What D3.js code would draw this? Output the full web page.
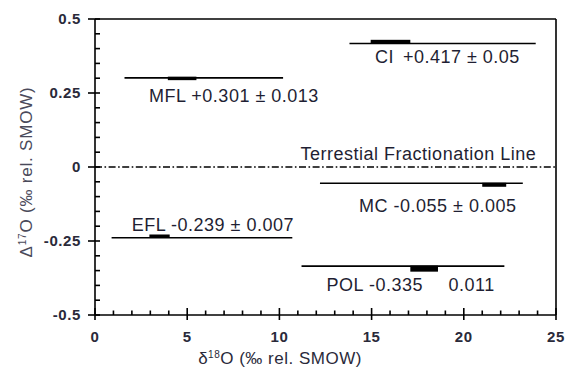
<!DOCTYPE html>
<html lang="en">

<head>
    <meta charset="UTF-8">
    <title>D17O vs d18O</title>
    <script src="https://cdn.jsdelivr.net/npm/d3@7"></script>
    <style>
        body {
            margin: 0;
            background: #fff;
        }

        svg {
            font-family: "Liberation Sans", Arial, sans-serif;
        }
    </style>
</head>

<body>
    <svg width="566" height="368"></svg>
    <script>
        // 样品名称
        var names = ["CI", "MFL", "MC", "EFL", "POL"];
        // Δ17O 数值 与 误差
        var d17 = [0.417, 0.301, -0.055, -0.239, -0.335];
        var d17err = ["0.05", "0.013", "0.005", "0.007", "0.011"];
        // δ18O 范围 (细线)
        var rangeLo = [13.8, 1.6, 12.2, 0.9, 11.2];
        var rangeHi = [23.9, 10.2, 23.2, 10.7, 22.2];
        // δ18O 平均区间 (粗线)
        var meanLo = [14.95, 3.95, 21.0, 2.95, 17.1];
        var meanHi = [17.1, 5.5, 22.3, 4.05, 18.6];
        // 标签位置 (数据单位)
        var labelX = [15.18, 2.93, 14.32, 1.99, 12.56];
        var labelY = [0.35, 0.22, -0.152, -0.216, -0.419];

        var xTicks = [0, 5, 10, 15, 20, 25];
        var yTicks = [0.5, 0.25, 0, -0.25, -0.5];

        // 粗线样式: 高度, 相对细线偏移
        var barStyle = {
            CI: [3.5, -2],
            MFL: [3.5, 0.5],
            MC: [4, 1.5],
            EFL: [3.5, -1.5],
            POL: [6, 2.5]
        };

        var svg = d3.select("svg");

        var x = d3.scaleLinear().domain([0, 25]).range([95, 556]);
        var y = d3.scaleLinear().domain([-0.5, 0.5]).range([315, 19]);

        var frame = svg.append("g").attr("stroke", "#000").attr("stroke-width", 1.6);
        // 上、右边框
        frame.append("line").attr("x1", x(0)).attr("x2", x(25)).attr("y1", y(0.5)).attr("y2", y(0.5));
        frame.append("line").attr("x1", x(25)).attr("x2", x(25)).attr("y1", y(0.5)).attr("y2", y(-0.5));
        // 左轴, 下轴
        frame.append("line").attr("x1", x(0)).attr("x2", x(0)).attr("y1", y(0.5)).attr("y2", y(-0.5));
        frame.append("line").attr("x1", x(0)).attr("x2", x(25)).attr("y1", y(-0.5)).attr("y2", y(-0.5));

        // 左轴刻度
        var yMinor = d3.range(-0.5, 0.5001, 0.05);
        frame.selectAll(".ym").data(yMinor).enter().append("line")
            .attr("x1", function (d) {
                return Math.abs(Math.round(d * 100) % 25) === 0 ? x(0) - 7 : x(0);
            })
            .attr("x2", x(0) + 5)
            .attr("y1", function (d) { return y(d); })
            .attr("y2", function (d) { return y(d); });

        // 下轴刻度
        var xMinor = d3.range(0, 25.001, 1);
        frame.selectAll(".xm").data(xMinor).enter().append("line")
            .attr("x1", function (d) { return x(d); })
            .attr("x2", function (d) { return x(d); })
            .attr("y1", function (d) {
                return d % 5 === 0 ? y(-0.5) - 7 : y(-0.5) - 4.5;
            })
            .attr("y2", function (d) {
                return d % 5 === 0 ? y(-0.5) + 5 : y(-0.5);
            });

        // 刻度标签
        svg.append("g").selectAll("text").data(yTicks).enter().append("text")
            .attr("x", 81)
            .attr("y", function (d) { return y(d); })
            .attr("dy", "0.36em")
            .attr("text-anchor", "end")
            .attr("font-size", 15)
            .attr("font-weight", "bold")
            .attr("letter-spacing", 0.6)
            .attr("fill", "#2a2a3a")
            .text(function (d) { return d; });

        svg.append("g").selectAll("text").data(xTicks).enter().append("text")
            .attr("x", function (d) { return x(d); })
            .attr("y", 342)
            .attr("text-anchor", "middle")
            .attr("font-size", 15)
            .attr("font-weight", "bold")
            .attr("letter-spacing", 0.6)
            .attr("fill", "#2a2a3a")
            .text(function (d) { return d; });

        // 轴标题
        var xt = svg.append("text")
            .attr("x", 280)
            .attr("y", 364)
            .attr("text-anchor", "middle")
            .attr("font-size", 17)
            .attr("letter-spacing", 0.5)
            .attr("fill", "#2a2a3a");
        xt.append("tspan").text("δ");
        xt.append("tspan").attr("font-size", 10).attr("dy", -6).text("18");
        xt.append("tspan").attr("dy", 6).text("O (‰ rel. SMOW)");

        var yt = svg.append("text")
            .attr("transform", "translate(32,172) rotate(-90)")
            .attr("text-anchor", "middle")
            .attr("font-size", 17)
            .attr("letter-spacing", 0.8)
            .attr("fill", "#4a4a5a");
        yt.append("tspan").text("Δ");
        yt.append("tspan").attr("font-size", 10).attr("dy", -6).text("17");
        yt.append("tspan").attr("dy", 6).text("O (‰ rel. SMOW)");

        // 地球分馏线
        svg.append("line")
            .attr("x1", x(0)).attr("x2", x(25))
            .attr("y1", y(0)).attr("y2", y(0))
            .attr("stroke", "#000")
            .attr("stroke-width", 1.4)
            .attr("stroke-dasharray", "7,2.5,1.6,2.5");
        svg.append("text")
            .attr("x", x(11.15))
            .attr("y", y(0.022))
            .attr("font-size", 18)
            .attr("letter-spacing", 0.5)
            .attr("fill", "#1f1f33")
            .text("Terrestial Fractionation Line");

        // 样品线
        var idx = d3.range(names.length);
        var g = svg.append("g");
        g.selectAll(".rng").data(idx).enter().append("line")
            .attr("x1", function (i) { return x(rangeLo[i]); })
            .attr("x2", function (i) { return x(rangeHi[i]); })
            .attr("y1", function (i) { return y(d17[i]); })
            .attr("y2", function (i) { return y(d17[i]); })
            .attr("stroke", "#000")
            .attr("stroke-width", 1.6);

        g.selectAll(".mean").data(idx).enter().append("rect")
            .attr("x", function (i) { return x(meanLo[i]); })
            .attr("width", function (i) { return x(meanHi[i]) - x(meanLo[i]); })
            .attr("y", function (i) {
                var s = barStyle[names[i]];
                return y(d17[i]) + s[1] - s[0] / 2;
            })
            .attr("height", function (i) { return barStyle[names[i]][0]; })
            .attr("fill", "#000");

        // 标签
        var labels = g.selectAll(".lab").data(idx).enter().append("text")
            .attr("x", function (i) { return x(labelX[i]); })
            .attr("y", function (i) { return y(labelY[i]); })
            .attr("font-size", 18)
            .attr("letter-spacing", 0.5)
            .attr("fill", "#1f1f33");

        labels.each(function (i) {
            var t = d3.select(this);
            var v = (d17[i] > 0 ? "+" : "") + d17[i];
            if (names[i] === "POL") {
                // 原图此处 ± 缺失
                t.append("tspan").text(names[i] + " " + v);
                t.append("tspan").attr("x", x(19.17)).text(d17err[i]);
            } else if (names[i] === "CI") {
                t.append("tspan").text(names[i]);
                t.append("tspan").attr("dx", 9).text(v + " ± " + d17err[i]);
            } else {
                t.text(names[i] + " " + v + " ± " + d17err[i]);
            }
        });
    </script>
</body>

</html>
